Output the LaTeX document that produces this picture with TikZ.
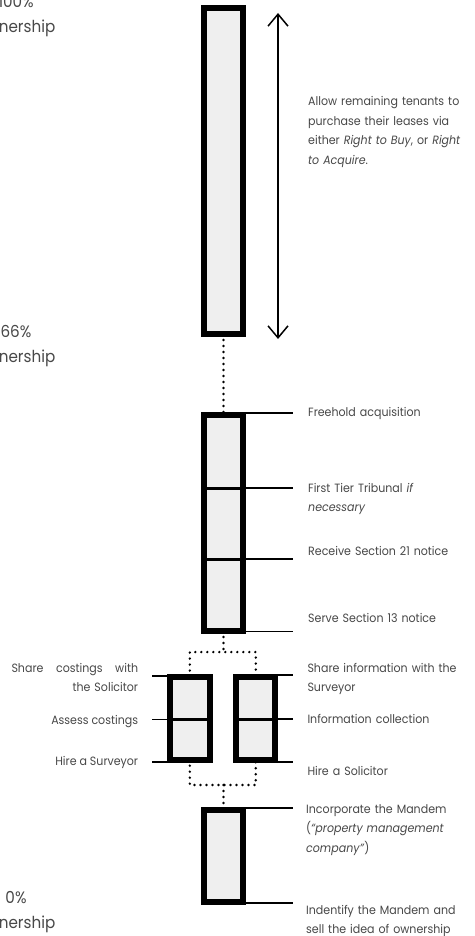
\documentclass[tikz,border=0pt]{standalone}
\usepackage{fontspec}
\setmainfont{Poppins}[FakeStretch=0.92]
\usetikzlibrary{arrows.meta}
\definecolor{txt}{HTML}{484848}
\definecolor{barfill}{HTML}{EFEFEF}
\begin{document}
\begin{tikzpicture}[x=1pt,y=-1pt,
  bar/.style={draw=black, fill=barfill, line width=6pt, inner sep=0pt, outer sep=0pt},
  divider/.style={line width=2.5pt},
  tick/.style={line width=1.8pt},
  dots/.style={line width=2.7pt, dash pattern=on 0pt off 6pt, line cap=round},
  lab/.style={font=\fontsize{12}{19.5}\selectfont, text=txt, inner sep=0pt, text width=170pt, align=left, anchor=base west},
  llab/.style={font=\fontsize{12}{19.5}\selectfont, text=txt, inner sep=0pt, anchor=base east},
  big/.style={font=\fontsize{16.5}{25}\selectfont, text=txt, inner sep=0pt, text width=90pt, align=center, anchor=base},
  dbl/.style={{Straight Barb[length=12pt,width=20pt]}-{Straight Barb[length=12pt,width=20pt]}, line width=1.5pt}
]
\useasboundingbox (0,0) rectangle (474,936);
\fill[white] (0,0) rectangle (474,936);
\clip (0,0) rectangle (474,936);

% tick lines (drawn first, bars cover their inner ends)
\draw[tick] (243,413) -- (293.3,413);
\draw[tick] (243,488.3) -- (293.3,488.3);
\draw[tick] (243,559.3) -- (293.3,559.3);
\draw[tick] (243,631.5) -- (293.3,631.5);
\draw[tick] (189.85,676) -- (151.7,676);
\draw[tick] (189.85,719.5) -- (151.7,719.5);
\draw[tick] (189.85,761.7) -- (151.7,761.7);
\draw[tick] (255.8,675) -- (293.3,675);
\draw[tick] (255.8,719.3) -- (293.3,719.3);
\draw[tick] (255.8,762) -- (293.3,762);
\draw[tick] (243,808) -- (293.3,808);
\draw[tick] (243,902.7) -- (293.3,902.7);

% bars
\node[bar, minimum width=39.5pt, minimum height=325.5pt] (top) at (223.45,171.25) {};
\node[bar, minimum width=39.5pt, minimum height=216.3pt] (mid) at (223.45,522.85) {};
\node[bar, minimum width=39.7pt, minimum height=83.2pt] (lbox) at (189.85,718.1) {};
\node[bar, minimum width=39pt, minimum height=83.2pt] (rbox) at (255.8,718.1) {};
\node[bar, minimum width=39.5pt, minimum height=92.3pt] (bot) at (223.45,855.85) {};

% dividers
\draw[divider] (203.7,488.3) -- (243.2,488.3);
\draw[divider] (203.7,559.3) -- (243.2,559.3);
\draw[divider] (170,719.5) -- (209.7,719.5);
\draw[divider] (236.3,719.3) -- (275.3,719.3);

% dotted connectors
\coordinate (j1) at (223.45,652);
\coordinate (j2) at (223.45,785);
\draw[dots] (top.south) -- (mid.north);
\draw[dots] (mid.south) -- (j1);
\draw[dots] (lbox.north) |- (j1) -| (rbox.north);
\draw[dots] (lbox.south) |- (j2) -| (rbox.south);
\draw[dots] (j2) -- (bot.north);

% double arrow
\coordinate (aTop) at (278,13);
\coordinate (aBot) at (278,339);
\draw[dbl] (aTop) -- (aBot);

% right labels
\node[lab] (t1) at (308,106) {Allow remaining tenants to\\purchase their leases via\\either \textit{Right to Buy}, or \textit{Right}\\\textit{to Acquire}.};
\node[lab] (t2) at (308,416.5) {Freehold acquisition};
\node[lab] (t3) at (308,492.3) {First Tier Tribunal \textit{if}\\\textit{necessary}};
\node[lab] (t4) at (308,555.7) {Receive Section 21 notice};
\node[lab] (t5) at (308,622) {Serve Section 13 notice};
\node[lab] (t6) at (307.3,672.3) {Share information with the\\Surveyor};
\node[lab] (t7) at (307.3,723.3) {Information collection};
\node[lab] (t8) at (307.3,775.7) {Hire a Solicitor};
\node[lab] (t9) at (306,813.3) {Incorporate the Mandem\\(\textit{“property management}\\\textit{company”})};
\node[lab] (t10) at (306,914) {Indentify the Mandem and\\sell the idea of ownership};

% left labels
\node[llab, text width=126.6pt, align=right] (l1) at (138.3,672.3) {\makebox[126.6pt][s]{Share\hfill costings\hfill with}\\the Solicitor};
\node[llab] (l2) at (138.3,724) {Assess costings};
\node[llab] (l3) at (138.3,765.7) {Hire a Surveyor};

% ownership levels
\node[big] (o1) at (16,7.5) {100\%\\ownership};
\node[big] (o2) at (16,337.5) {66\%\\ownership};
\node[big] (o3) at (16,903.5) {0\%\\ownership};
\end{tikzpicture}
\end{document}
